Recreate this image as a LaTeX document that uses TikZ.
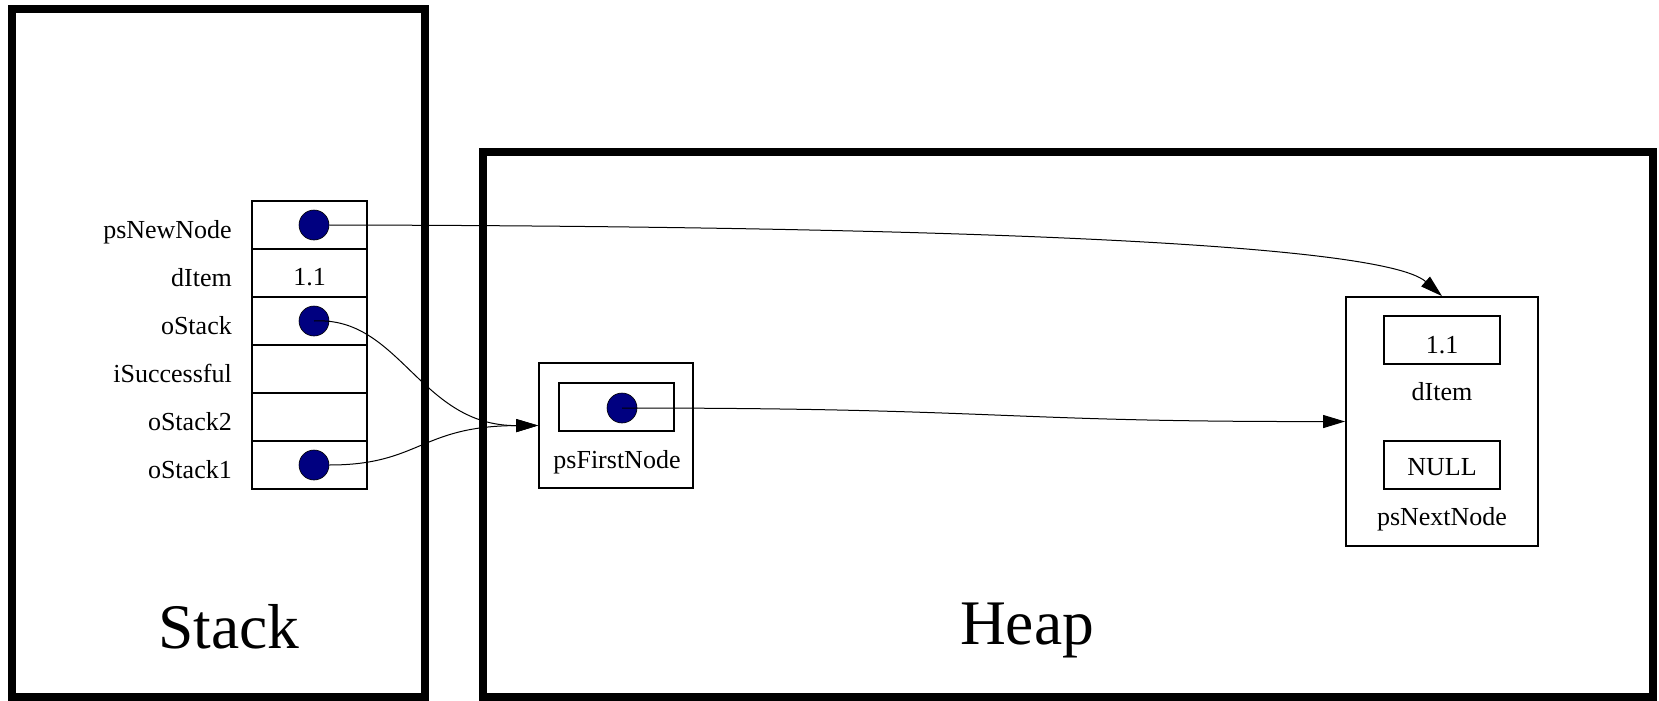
\documentclass[tikz,border=0pt]{standalone}
\usepackage{fontspec}
\setmainfont{Liberation Serif}
\usetikzlibrary{arrows.meta}
\definecolor{ptrfill}{RGB}{0,0,128}
\begin{document}
\begin{tikzpicture}[x=1pt,y=-1pt,
  region/.style={draw,line width=8pt,inner sep=0pt},
  cell/.style={draw,line width=1.8pt,minimum width=115pt,minimum height=48pt,inner sep=0pt,font=\fontsize{26}{30}\selectfont},
  box/.style={draw,line width=1.8pt,inner sep=0pt},
  lbl/.style={font=\fontsize{26}{30}\selectfont,inner sep=0pt},
  title/.style={font=\fontsize{63.5}{70}\selectfont,inner sep=0pt,anchor=base},
  dot/.style={circle,draw=black,line width=0.6pt,fill=ptrfill,minimum size=30pt,inner sep=0pt},
  ptr/.style={line width=1pt,-{Triangle[length=22pt,width=13pt]}}]
\useasboundingbox (0,0) rectangle (1659,701);
% regions
\node[region,minimum width=413pt,minimum height=688pt] (stackbox) at (218.5,353) {};
\node[region,minimum width=1170pt,minimum height=545pt] (heapbox) at (1068,424.5) {};
\node[title] (stacklbl) at (229,648) {Stack};
\node[title] (heaplbl) at (1027,644) {Heap};
% stack table
\node[cell] (c1) at (309.5,225) {};
\node[cell] (c2) at (309.5,273) {};
\node[cell] (c3) at (309.5,321) {};
\node[cell] (c4) at (309.5,369) {};
\node[cell] (c5) at (309.5,417) {};
\node[cell] (c6) at (309.5,465) {};
\node[lbl,anchor=base] (c2v) at (309.5,285) {1.1};
\node[lbl,anchor=base east] (l1) at (232,238) {psNewNode};
\node[lbl,anchor=base east] (l2) at (232,286) {dItem};
\node[lbl,anchor=base east] (l3) at (232,334) {oStack};
\node[lbl,anchor=base east] (l4) at (232,382) {iSuccessful};
\node[lbl,anchor=base east] (l5) at (232,430) {oStack2};
\node[lbl,anchor=base east] (l6) at (232,478) {oStack1};
\node[dot] (p1) at (314,225) {};
\node[dot] (p3) at (314,321) {};
\node[dot] (p6) at (314,465) {};
% heap: first node
\node[box,minimum width=154pt,minimum height=125pt] (fn) at (616,425.5) {};
\node[box,minimum width=115pt,minimum height=48pt] (fnin) at (616.5,407) {};
\node[dot] (pf) at (622,408) {};
\node[lbl,anchor=base] (fnl) at (617,468) {psFirstNode};
% heap: next node
\node[box,minimum width=192pt,minimum height=249pt] (nn) at (1442,421.5) {};
\node[box,minimum width=116pt,minimum height=48pt] (nni) at (1442,340) {};
\node[lbl,anchor=base] (nniv) at (1442,353) {1.1};
\node[lbl,anchor=base] (nnil) at (1442,400) {dItem};
\node[box,minimum width=116pt,minimum height=48pt] (nnn) at (1442,465) {};
\node[lbl,anchor=base] (nnnv) at (1442,475) {NULL};
\node[lbl,anchor=base] (nnnl) at (1442,525) {psNextNode};
% pointers
\draw[ptr] (p1.east) .. controls (900,226) and (1380,241) .. (nn.north);
\draw[ptr] (p3.center) .. controls (400,316) and (420,426) .. (fn.west);
\draw[ptr] (p6.east) .. controls (420,465) and (420,426) .. (fn.west);
\draw[ptr] (pf.center) .. controls (1000,408) and (1000,422) .. (nn.west);
\end{tikzpicture}
\end{document}
